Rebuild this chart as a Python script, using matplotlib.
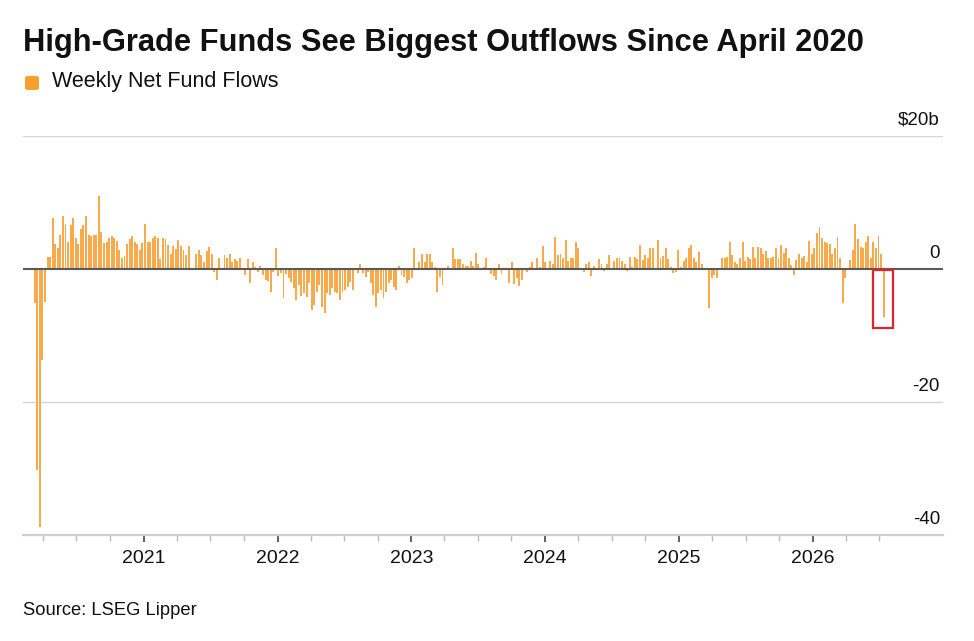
import numpy as np
import pandas as pd
import matplotlib
matplotlib.use("Agg")
import matplotlib.pyplot as plt
import matplotlib.dates as mdates
from matplotlib.patches import Rectangle, FancyBboxPatch

# weekly net flows into high-grade funds, $ billions
flows_covid = [-5.1, -30.2, -38.8, -13.7, -5.0]
flows_2020 = [1.85, 1.85, 7.7, 3.7, 3.2, 5.1, 8.0, 6.7, 4.0, 6.6,
              7.6, 4.6, 3.7, 6.0, 6.6, 8.0, 5.1, 4.9, 5.1, 5.1,
              11.0, 5.5, 3.9, 4.1, 4.6, 5.0, 4.7, 4.2, 2.9, 1.7,
              1.9, 3.7, 4.5, 4.9, 4.1, 3.7, 2.9, 3.9, 6.7, 4.1,
              4.0, 4.7, 5.0, 4.7, 1.5, 4.7, 4.5, 3.6, 2.2, 3.5]
flows_2021 = [3.0, 4.35, 3.5, 2.85, 2.1, 3.5, 0.1, 0.0, 2.2, 2.85,
              2.1, 1.1, 2.7, 3.35, 2.2, -0.4, -1.65, 1.7, 0.2, 2.1,
              1.7, 2.2, 1.1, 1.5, 1.2, 1.7, 0.1, -0.9, 1.5, -2.15,
              1.0, 0.35, -0.5, 0.5, -0.9, -1.65, -1.8, -3.4, -0.4, 3.2,
              -1.0, -0.65, -4.3, -0.8, -1.4, -1.9, -2.9, -4.65, -2.4, -4.0,
              -3.65, -4.15, -2.15, -6.15, -5.4, -3.4]
flows_2022 = [-2.4, -5.65, -6.65, -3.65, -3.9, -2.9, -3.4, -3.65, -4.65, -3.4,
              -3.15, -2.65, -1.9, -3.15, -0.15, -0.55, 0.7, -0.65, -1.15, -0.4,
              -2.15, -3.9, -5.65, -3.65, -3.15, -4.4, -3.4, -2.15, -1.65, -2.65,
              -3.15, 0.5, -0.9, -1.15, -2.15, -1.65, -1.4, 3.2, 0.2, 1.1,
              2.2, 1.1, 2.2, 2.2, 1.1, 0.35, -3.4, -1.15, -2.4, 0.2,
              0.5, -0.15, 3.1, 1.5, 1.5, 1.5, 0.7]
flows_2023 = [0.5, 0.5, 1.2, 0.5, 2.35, 0.7, 0.1, 0.35, 1.7, 0.1,
              -0.8, -1.0, -1.65, 0.7, -0.8, -0.15, 0.2, -2.15, 1.0, -2.3,
              -1.3, -2.5, -1.65, 0.1, -0.4, 0.35, 1.0, 0.2, 1.7, 0.35,
              3.5, 1.0, 0.2, 1.2, 0.7, 4.85, 2.1, 2.2, 1.6, 4.35,
              1.2, 1.7, 1.7, 4.1, 3.2, 0.2, -0.4, 0.7, 1.1, -1.0,
              0.5, 0.1, 1.5, 0.7, -0.3, 0.7, 2.1]
flows_2024 = [0.1, 1.2, 1.7, 1.6, 1.2, 0.7, -0.3, 1.85, 0.35, 1.85,
              1.5, 3.6, 1.35, 2.1, 1.7, 3.1, 3.1, 0.1, 4.35, 1.7,
              2.0, 3.1, 1.5, 0.35, -0.65, -0.5, 2.85, 0.35, 1.2, 1.6,
              3.2, 3.6, 1.7, 1.1, 2.5, 0.7, 0.2, -0.15, -5.9, -1.4,
              -0.9, -1.4, 0.1, 1.7, 1.6, 1.85, 4.0, 2.1, 1.1, 0.7,
              1.7, 4.0, 1.2, 1.85, 1.5]
flows_2025 = [3.35, 1.6, 3.35, 3.1, 2.2, 2.7, 1.6, 1.7, 1.85, 3.2,
              1.7, 3.6, 2.35, 3.1, 1.7, 0.6, -0.9, 1.35, 2.2, 1.7,
              2.0, 1.1, 4.2, 2.2, 3.1, 5.35, 6.35, 4.6, 4.0, 3.85,
              3.7, 2.2, 3.1, 4.85, 1.6, -5.15, -1.4, -0.15, 1.35, 2.85,
              6.7, 4.5, 3.35, 3.1, 4.1, 5.0, 1.7, 4.1, 3.1, 5.0,
              2.2, -7.15]

first_week = "2020-03-09"
year_ticks = ["2021", "2022", "2023", "2024", "2025", "2026"]
y_ticks = [20, 0, -20, -40]
y_labels = ["$20b", "0", "-20", "-40"]

flows = np.array(flows_covid + flows_2020 + flows_2021 + flows_2022
                 + flows_2023 + flows_2024 + flows_2025)
weeks = pd.date_range(first_week, periods=len(flows), freq="7D")

BAR = "#F9AA4C"
DARK = "#111111"

plt.rcParams["font.family"] = ["Liberation Sans", "DejaVu Sans"]

fig = plt.figure(figsize=(9.74, 6.41), dpi=100)
ax = fig.add_axes([23 / 974, 1 - 535 / 641, 920 / 974, 399 / 641])

ax.bar(weeks, flows, width=5.3, color=BAR, linewidth=0, zorder=2)

ax.set_xlim(pd.Timestamp("2020-02-06"), pd.Timestamp("2026-12-22"))
ax.set_ylim(-40, 20)

for v in [20, -20]:
    ax.axhline(v, color="#d6d6d6", lw=1, zorder=1)
ax.axhline(0, color="#5a5a5a", lw=1.5, zorder=3)

for s in ["top", "right", "left"]:
    ax.spines[s].set_visible(False)
ax.spines["bottom"].set_color("#d0d0d0")
ax.spines["bottom"].set_linewidth(1.6)

ax.set_xticks([pd.Timestamp(y + "-01-01") for y in year_ticks])
ax.set_xticklabels(year_ticks)
quarters = pd.date_range("2020-04-01", "2026-07-01", freq="QS")
ax.set_xticks([q for q in quarters if q.month != 1], minor=True)
ax.tick_params(axis="x", which="major", length=5, width=1.2, color="#444444",
               labelsize=14, labelcolor=DARK, pad=6)
ax.tick_params(axis="x", which="minor", length=4, width=1, color="#bbbbbb")
ax.set_yticks([])

ytrans = ax.get_yaxis_transform()
for v, lab in zip(y_ticks, y_labels):
    ax.text(0.9967, v + 2.4, lab, transform=ytrans, ha="right", va="center",
            fontsize=13.5, color=DARK)

# highlight the latest week
last = weeks[-1]
ax.add_patch(Rectangle((mdates.date2num(last) - 30, -8.9), 55, 8.75,
                       fill=False, edgecolor="#E0242C", lw=1.6, zorder=4))

fig.text(23 / 974, 1 - 51.5 / 641, "High-Grade Funds See Biggest Outflows Since April 2020",
         fontsize=22.2, fontweight="bold", color=DARK, va="baseline")
fig.patches.append(FancyBboxPatch((25 / 974, 1 - 90 / 641), 14 / 974, 14 / 641,
                                  boxstyle="round,pad=0,rounding_size=0.003",
                                  transform=fig.transFigure, color="#F7A02C",
                                  linewidth=0))
fig.text(52 / 974, 1 - 87.3 / 641, "Weekly Net Fund Flows", fontsize=15.5,
         color=DARK, va="baseline")
fig.text(23 / 974, 1 - 615 / 641, "Source: LSEG Lipper", fontsize=13.2,
         color=DARK, va="baseline")

fig.savefig("out.png", dpi=100)
